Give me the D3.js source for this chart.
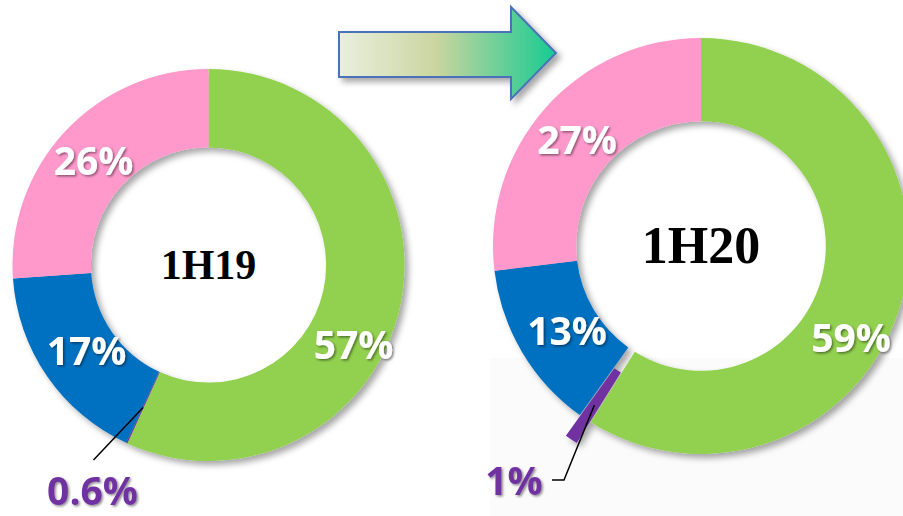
<!DOCTYPE html>
<html lang="en">
<head>
<meta charset="utf-8">
<title>1H19 vs 1H20</title>
<script src="https://d3js.org/d3.v7.min.js"></script>
<style>
  html, body { margin: 0; padding: 0; background: #fff; }
  svg { display: block; }
  .pct { font-family: "Open Sans", "Noto Sans", sans-serif; font-weight: 700; }
  .period { font-family: "Liberation Serif", "DejaVu Serif", serif; font-weight: 700; }
</style>
</head>
<body>
<div id="chart"></div>
<script>
// data
var periods = ["1H19", "1H20"];
var segments = ["seg1", "seg2", "seg3", "seg4"];
var colors = ["#92d050", "#7030a0", "#0070c0", "#ff99cc"];
// slice sizes as they appear in the picture
var values19 = [56.8, 0.1, 17.0, 26.1];
var values20 = [58.9, 1.0, 13.2, 26.9];
var labels19 = ["57%", "0.6%", "17%", "26%"];
var labels20 = ["59%", "1%", "13%", "27%"];

var width = 903, height = 516;

var svg = d3.select("#chart").append("svg")
    .attr("width", width)
    .attr("height", height);

var defs = svg.append("defs");

var ringShadow = defs.append("filter").attr("id", "ringShadow")
    .attr("x", "-20%").attr("y", "-20%").attr("width", "140%").attr("height", "140%");
ringShadow.append("feDropShadow")
    .attr("dx", 4).attr("dy", 4).attr("stdDeviation", 3)
    .attr("flood-color", "#000").attr("flood-opacity", 0.35);

var textShadow = defs.append("filter").attr("id", "textShadow")
    .attr("x", "-20%").attr("y", "-20%").attr("width", "140%").attr("height", "140%");
textShadow.append("feDropShadow")
    .attr("dx", 1.5).attr("dy", 1.5).attr("stdDeviation", 1)
    .attr("flood-color", "#000").attr("flood-opacity", 0.45);

var grad = defs.append("linearGradient").attr("id", "arrowGrad")
    .attr("x1", "0%").attr("x2", "100%").attr("y1", "0%").attr("y2", "0%");
grad.append("stop").attr("offset", "0%").attr("stop-color", "#eaefdf");
grad.append("stop").attr("offset", "45%").attr("stop-color", "#cad59f");
grad.append("stop").attr("offset", "100%").attr("stop-color", "#16cb92");

// faint background panel (slide backdrop)
svg.append("rect")
    .attr("x", 490).attr("y", 358).attr("width", 413).attr("height", 158)
    .attr("fill", "#fbfbfb");

// arrow
var arrow = svg.append("g").attr("filter", "url(#ringShadow)");
arrow.append("path")
    .attr("d", "M339,32 L511,32 L511,7 L556,53 L511,99 L511,77 L339,77 Z")
    .attr("fill", "url(#arrowGrad)")
    .attr("stroke", "#4a72b8")
    .attr("stroke-width", 2)
    .attr("stroke-linejoin", "miter");

var pie = d3.pie().sort(null).value(function(d) { return d; });

var charts = [
  { name: periods[0], values: values19, labels: labels19,
    cx: 208.5, cy: 265, r: 196, fontC: 42, explode: 0,
    // label centres relative to the donut centre
    lab: [[145, 80], null, [-122, 86], [-115, -104]],
    small: { end: [-115, 195], text: [-116, 226] } },
  { name: periods[1], values: values20, labels: labels20,
    cx: 701, cy: 246, r: 208, fontC: 52, explode: 25,
    lab: [[150, 92], null, [-134, 85], [-124, -106]],
    small: { mid: [-137, 234], end: [-149, 234], text: [-187, 235] } }
];

charts.forEach(function(c) {
  var inner = c.r * 0.6;
  var arc = d3.arc().innerRadius(inner).outerRadius(c.r);
  var mid = d3.arc().innerRadius((inner + c.r) / 2).outerRadius((inner + c.r) / 2);
  var arcs = pie(c.values);

  var g = svg.append("g").attr("transform", "translate(" + c.cx + "," + c.cy + ")");

  var ring = g.append("g").attr("filter", "url(#ringShadow)");
  ring.selectAll("path")
    .data(arcs)
    .enter()
    .append("path")
      .attr("d", arc)
      .attr("fill", function(d, i) { return colors[i]; })
      .attr("transform", function(d, i) {
        if (i !== 1 || !c.explode) return null;
        var a = (d.startAngle + d.endAngle) / 2;
        return "translate(" + (c.explode * Math.sin(a)) + "," + (-c.explode * Math.cos(a)) + ")";
      });

  // centre title
  g.append("text")
    .attr("class", "period")
    .attr("text-anchor", "middle")
    .attr("dy", "0.35em")
    .attr("y", -1)
    .style("font-size", c.fontC + "px")
    .attr("fill", "#000")
    .text(c.name);

  // white percentage labels inside the ring
  c.lab.forEach(function(p, i) {
    if (!p) return;
    g.append("text")
      .attr("class", "pct")
      .attr("x", p[0]).attr("y", p[1])
      .attr("text-anchor", "middle")
      .attr("dy", "0.36em")
      .style("font-size", "39px")
      .attr("fill", "#fff")
      .attr("filter", "url(#textShadow)")
      .text(c.labels[i]);
  });

  // leader line to the small slice
  var s = arcs[1];
  var start = mid.centroid(s);
  if (c.explode) {
    var a = (s.startAngle + s.endAngle) / 2;
    start = [start[0] + c.explode * Math.sin(a), start[1] - c.explode * Math.cos(a)];
  }
  var pts = [start];
  if (c.small.mid) pts.push(c.small.mid);
  pts.push(c.small.end);
  g.append("path")
    .attr("d", d3.line()(pts))
    .attr("fill", "none")
    .attr("stroke", "#000")
    .attr("stroke-width", 1.5);

  g.append("text")
    .attr("class", "pct")
    .attr("x", c.small.text[0]).attr("y", c.small.text[1])
    .attr("text-anchor", "middle")
    .attr("dy", "0.36em")
    .style("font-size", "39px")
    .attr("fill", "#7030a0")
    .attr("filter", "url(#textShadow)")
    .text(c.labels[1]);
});
</script>
</body>
</html>
